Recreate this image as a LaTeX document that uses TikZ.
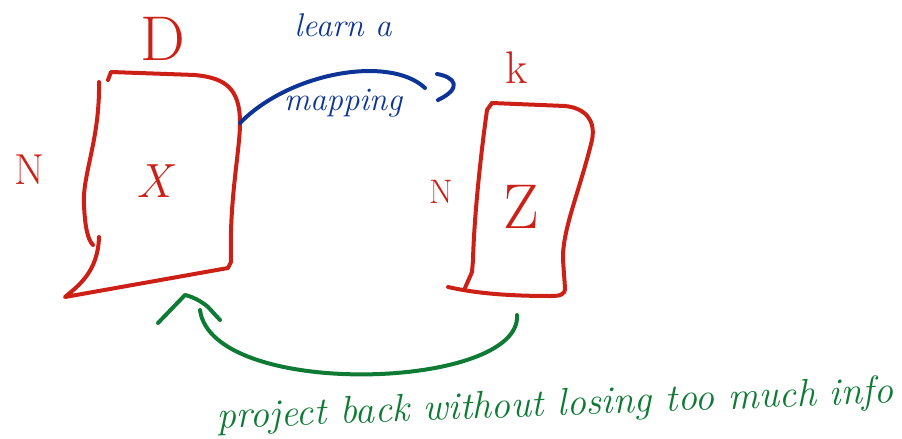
\documentclass[tikz,border=0pt]{standalone}
\definecolor{redpen}{RGB}{204,32,22}
\definecolor{bluepen}{RGB}{12,52,150}
\definecolor{greenpen}{RGB}{14,122,52}
\tikzset{
  pen/.style={line width=1.2mm, line cap=round, line join=round},
  hand/.style={inner sep=0pt, font=\fontsize{#1}{#1}\selectfont},
  handit/.style={inner sep=0pt, font=\fontsize{#1}{#1}\selectfont\itshape}
}
\begin{document}
\begin{tikzpicture}[x=0.3mm, y=-0.3mm]
\useasboundingbox (0,0) rectangle (902,439);

% matrix X
\draw[pen, redpen] (99,82) .. controls (100,140) and (82,175) .. (84,205) .. controls (85,228) and (88,240) .. (93,245);
\draw[pen, redpen] (99,237) .. controls (98,272) and (78,286) .. (65,297) -- (228,268) -- (231,262)
  .. controls (229,200) and (240,150) .. (240,123) .. controls (240,88) and (225,78) .. (195,75) -- (111,72) -- (108,80);
\node[hand=54, redpen] (D) at (163,39) {D};
\node[hand=37, redpen] (N1) at (30,170) {N};
\node[handit=41, redpen] (X) at (154,181) {X};

% matrix Z
\draw[pen, redpen] (492,103) -- (487,110) .. controls (480,160) and (474,220) .. (473,260) -- (472,272) -- (465,288);
\draw[pen, redpen] (492,103) -- (565,106) .. controls (585,108) and (596,120) .. (592,140)
  .. controls (580,190) and (562,230) .. (563,260) -- (565,288) .. controls (565,295) and (560,296) .. (550,296)
  .. controls (500,296) and (470,292) .. (448,287);
\node[hand=39, redpen] (k) at (517,68) {k};
\node[hand=29, redpen] (N2) at (441,192) {N};
\node[hand=54, redpen] (Z) at (521,207) {Z};

% learn a mapping
\coordinate (xout) at (240,123);
\coordinate (zin) at (425,88);
\draw[pen, bluepen] (xout) .. controls (290,72) and (390,55) .. (zin);
\draw[pen, bluepen] (437,74) .. controls (455,77) and (463,88) .. (438,100);
\node[handit=28, bluepen] (learn) at (343,25) {learn a};
\node[handit=28, bluepen] (mapping) at (343,103) {mapping};

% project back
\coordinate (zout) at (517,315);
\coordinate (xin) at (200,310);
\draw[pen, greenpen] (zout) .. controls (522,390) and (212,400) .. (xin);
\draw[pen, greenpen] (158,323) -- (185,295) .. controls (190,296) and (200,300) .. (208,307) -- (220,320);
\node[handit=33, greenpen, rotate=2.2] (info) at (555,406) {project back without losing too much info};
\end{tikzpicture}
\end{document}
